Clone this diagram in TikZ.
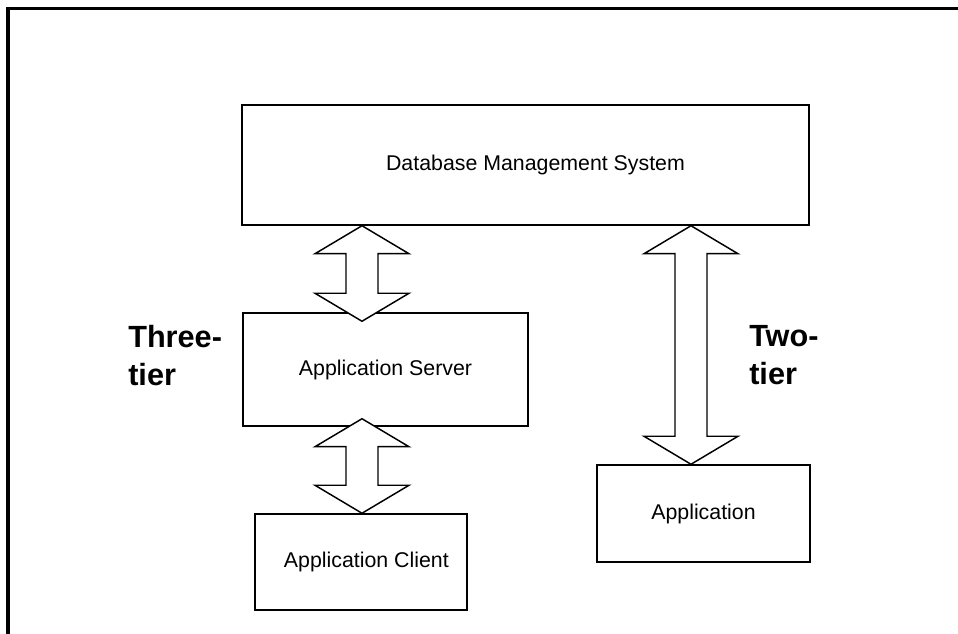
\documentclass[tikz,border=0pt]{standalone}
\usepackage{fontspec}
\setmainfont{Liberation Sans}
\usetikzlibrary{calc}
\newcommand\dblblockarrow[2]{%
  \draw[blockarr] (#1) -- ($(#1)+(47,28)$) -- ($(#1)+(16,28)$) -- ($(#2)+(16,-28)$)
    -- ($(#2)+(47,-28)$) -- (#2) -- ($(#2)+(-47,-28)$) -- ($(#2)+(-16,-28)$)
    -- ($(#1)+(-16,28)$) -- ($(#1)+(-47,28)$) -- cycle;}
\begin{document}
\begin{tikzpicture}[x=0.75pt,y=-0.75pt,
  box/.style={draw, line width=1.1pt, inner sep=0pt, font=\fontsize{16}{19}\selectfont},
  tierlabel/.style={font=\fontsize{23}{28.5}\selectfont\bfseries, align=left, inner sep=0pt, anchor=north west},
  blockarr/.style={draw, line width=1.1pt, fill=white, line join=miter},
  frameline/.style={line width=2.6pt}]
\useasboundingbox (0,0) rectangle (958,634);
\fill[white] (0,0) rectangle (958,634);
\draw[frameline] (958,8.5) -- (8,8.5) -- (8,634);

\node[box, minimum width=425.25pt, minimum height=90pt] (dbms) at (525.5,165) {\hspace*{15pt}Database Management System};
\node[box, minimum width=213.75pt, minimum height=84.75pt] (as) at (385.5,369.5) {Application Server};
\node[box, minimum width=159pt, minimum height=72pt] (client) at (361,562) {\hspace*{8pt}Application Client};
\node[box, minimum width=159.75pt, minimum height=72.75pt] (app) at (703.5,513.5) {Application};

\node[tierlabel] (three) at (128,325) {Three-\\tier};
\node[tierlabel] (two) at (749,325) {Two-\\tier};

\coordinate (x1) at (362,0);
\coordinate (x3) at (691,0);
\coordinate (a1t) at (dbms.south -| x1);
\coordinate (a1b) at ($(as.north -| x1)+(0,9)$);
\coordinate (a2t) at ($(as.south -| x1)+(0,-8)$);
\coordinate (a2b) at (client.north -| x1);
\coordinate (a3t) at (dbms.south -| x3);
\coordinate (a3b) at (app.north -| x3);

\dblblockarrow{a1t}{a1b}
\dblblockarrow{a2t}{a2b}
\dblblockarrow{a3t}{a3b}
\end{tikzpicture}
\end{document}
